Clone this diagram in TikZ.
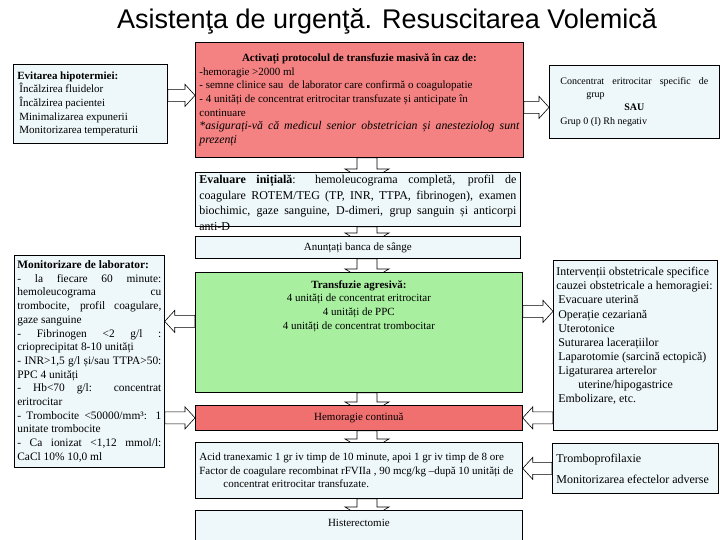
\documentclass[tikz,border=0pt]{standalone}
\usepackage{fontspec}
\setmainfont{Liberation Serif}
\newfontfamily\titlefont{Liberation Sans}
\usetikzlibrary{calc,backgrounds}
\definecolor{paleblue}{RGB}{238,247,249}
\definecolor{alertred}{RGB}{245,130,130}
\definecolor{bleedred}{RGB}{240,112,112}
\definecolor{transgreen}{RGB}{168,240,160}
\newcommand{\cellbox}[4][c]{\parbox[c][#3][#1]{#2}{#4}}
\tikzset{
  careblock/.style={
    draw=black,
    line width=0.75pt,
    anchor=north west,
    inner xsep=4pt,
    inner ysep=3pt,
    font=\fontsize{11}{13.7}\selectfont
  },
  infobox/.style={careblock,fill=paleblue},
  alertbox/.style={careblock,fill=alertred},
  bleedbox/.style={careblock,fill=bleedred},
  transbox/.style={careblock,fill=transgreen},
  hollowarrow/.style={draw=black,fill=white,line width=0.6pt},
  pushdown/.style={hollowarrow,to path={
      ($(\tikztostart)+(-10,0)$) -- ($(\tikztotarget)+(-10,-3)$)
      -- ($(\tikztotarget)+(-22,-3)$) -- ($(\tikztotarget)+(0,10)$)
      -- ($(\tikztotarget)+(22,-3)$) -- ($(\tikztotarget)+(10,-3)$)
      -- ($(\tikztostart)+(10,0)$) -- cycle}},
  pushright/.style={hollowarrow,to path={
      ($(\tikztostart)+(0,-6)$) -- ($(\tikztotarget)+(-10,-6)$)
      -- ($(\tikztotarget)+(-10,-11)$) -- (\tikztotarget)
      -- ($(\tikztotarget)+(-10,11)$) -- ($(\tikztotarget)+(-10,6)$)
      -- ($(\tikztostart)+(0,6)$) -- cycle}},
  pushleft/.style={hollowarrow,to path={
      ($(\tikztostart)+(0,-6)$) -- ($(\tikztotarget)+(10,-6)$)
      -- ($(\tikztotarget)+(10,-11)$) -- (\tikztotarget)
      -- ($(\tikztotarget)+(10,11)$) -- ($(\tikztotarget)+(10,6)$)
      -- ($(\tikztostart)+(0,6)$) -- cycle}}
}

\begin{document}
\begin{tikzpicture}[x=1pt,y=-1pt]
  \useasboundingbox (0,0) rectangle (720,540);

  \node[font=\titlefont\fontsize{27}{30}\selectfont] (title) at (387,21)
    {Asistenţa de urgenţă. Resuscitarea Volemică};

  % middle column
  \node[alertbox] (mtp) at (195,42) {\cellbox{320pt}{109pt}{%
    {\centering\textbf{Activați protocolul de transfuzie masivă în caz de:}\par}
    -hemoragie >2000 ml\\
    - semne clinice sau\ \ de laborator care confirmă o coagulopatie\\
    - 4 unități de concentrat eritrocitar transfuzate și anticipate în\\
    continuare\\
    {\fontsize{11.8}{13.7}\selectfont\itshape *asigurați-vă că medicul senior obstetrician și anesteziolog sunt\linebreak prezenți}}};
  \node[infobox,font=\fontsize{12}{15.5}\selectfont] (initeval) at (195,172) {\cellbox[t]{317pt}{48pt}{%
    \textbf{Evaluare inițială}: hemoleucograma completă, profil de\linebreak
    coagulare ROTEM/TEG (TP, INR, TTPA, fibrinogen), examen\linebreak
    biochimic, gaze sanguine, D-dimeri, grup sanguin și anticorpi\linebreak
    anti-D}};
  \node[infobox] (bank) at (195,236) {\cellbox{317pt}{16pt}{\centering Anunțați banca de sânge}};
  \node[transbox] (agresiv) at (195,272) {\cellbox[t]{319pt}{114pt}{\centering
    \vspace*{5pt}\textbf{Transfuzie agresivă:}\\
    4 unități de concentrat eritrocitar\\
    4 unități de PPC\\
    4 unități de concentrat trombocitar}};
  \node[bleedbox] (contin) at (195,405) {\cellbox{319pt}{19pt}{\centering Hemoragie continuă}};
  \node[infobox] (tranex) at (195,442) {\cellbox{319pt}{50pt}{%
    Acid tranexamic 1 gr iv timp de 10 minute, apoi 1 gr iv timp de 8 ore\\
    Factor de coagulare recombinat rFVIIa , 90 mcg/kg –după 10 unități de\\
    \hspace*{24pt}concentrat eritrocitar transfuzate.}};
  \node[infobox] (hister) at (195,510) {\cellbox[t]{319pt}{34pt}{\centering\vspace*{6pt}Histerectomie}};

  % left column
  \node[infobox] (hypo) at (13,64) {\cellbox{146pt}{73pt}{%
    \textbf{Evitarea hipotermiei:}\\
    \hspace*{2pt}Încălzirea fluidelor\\
    \hspace*{2pt}Încălzirea pacientei\\
    \hspace*{2pt}Minimalizarea expunerii\\
    \hspace*{2pt}Monitorizarea temperaturii}};
  \node[infobox,inner xsep=3pt,font=\fontsize{11.4}{13.7}\selectfont] (labmon) at (14,255) {\cellbox{144pt}{206pt}{%
    \textbf{Monitorizare de laborator:}\\
    - la fiecare 60 minute:\linebreak hemoleucograma cu\linebreak
    trombocite, profil coagulare,\linebreak gaze sanguine\\
    - Fibrinogen <2 g/l :\linebreak crioprecipitat 8-10 unități\\
    - INR>1,5 g/l și/sau TTPA>50:\linebreak PPC 4 unități\\
    - Hb<70 g/l: concentrat\linebreak eritrocitar\\
    - Trombocite <50000/mm³: 1\linebreak unitate trombocite\\
    - Ca ionizat <1,12 mmol/l:\linebreak CaCl 10\% 10,0 ml}};

  % right column
  \node[infobox,inner xsep=11pt,font=\fontsize{10}{13.2}\selectfont] (rbc) at (549,65) {\cellbox{148pt}{67pt}{%
    Concentrat eritrocitar specific de\linebreak
    \hspace*{26pt}grup\par
    {\centering\textbf{SAU}\par}
    Grup 0 (I) Rh negativ}};
  \node[infobox,inner xsep=3pt,font=\fontsize{11.9}{14.1}\selectfont] (obst) at (553,260) {\cellbox[t]{158pt}{164pt}{\raggedright
    \vspace*{4pt}Intervenții obstetricale specifice\\
    cauzei obstetricale a hemoragiei:\\
    \hspace*{2pt}Evacuare uterină\\
    \hspace*{2pt}Operație cezariană\\
    \hspace*{2pt}Uterotonice\\
    \hspace*{2pt}Suturarea lacerațiilor\\
    \hspace*{2pt}Laparotomie (sarcină ectopică)\\
    \hspace*{2pt}Ligaturarea arterelor\\
    \hspace*{22pt}uterine/hipogastrice\\
    \hspace*{2pt}Embolizare, etc.}};
  \node[infobox,font=\fontsize{12}{14}\selectfont] (thrombo) at (552,443) {\cellbox{158pt}{44pt}{%
    Tromboprofilaxie\\[7pt]
    Monitorizarea efectelor adverse}};

  \coordinate (spine) at (367,0);

  \begin{scope}[on background layer]
    \draw[pushdown] (spine |- mtp.south) to (spine |- initeval.north);
    \draw[pushdown] (spine |- initeval.south) to (spine |- bank.north);
    \draw[pushdown] (spine |- bank.south) to (spine |- agresiv.north);
    \draw[pushdown] (spine |- agresiv.south) to (spine |- contin.north);
    \draw[pushdown] (spine |- contin.south) to (spine |- tranex.north);
    \draw[pushdown] (spine |- tranex.south) to (spine |- hister.north);

    \draw[pushright] ([yshift=8.5pt]hypo.east) to ([yshift=8.5pt]hypo.east -| mtp.west);
    \draw[pushright] ([yshift=-5.5pt]rbc.west -| mtp.east) to ([yshift=-5.5pt]rbc.west);
    \draw[pushleft] ([yshift=11pt]agresiv.west) to ([yshift=11pt]agresiv.west -| labmon.east);
    \draw[pushright] ([yshift=21pt]agresiv.east) to ([yshift=21pt]agresiv.east -| obst.west);
    \draw[pushright] (contin.west -| labmon.east) to (contin.west);
    \draw[pushleft] (contin.east -| obst.west) to (contin.east);
    \draw[pushleft] (thrombo.west) to (thrombo.west -| tranex.east);
  \end{scope}
\end{tikzpicture}
\end{document}
